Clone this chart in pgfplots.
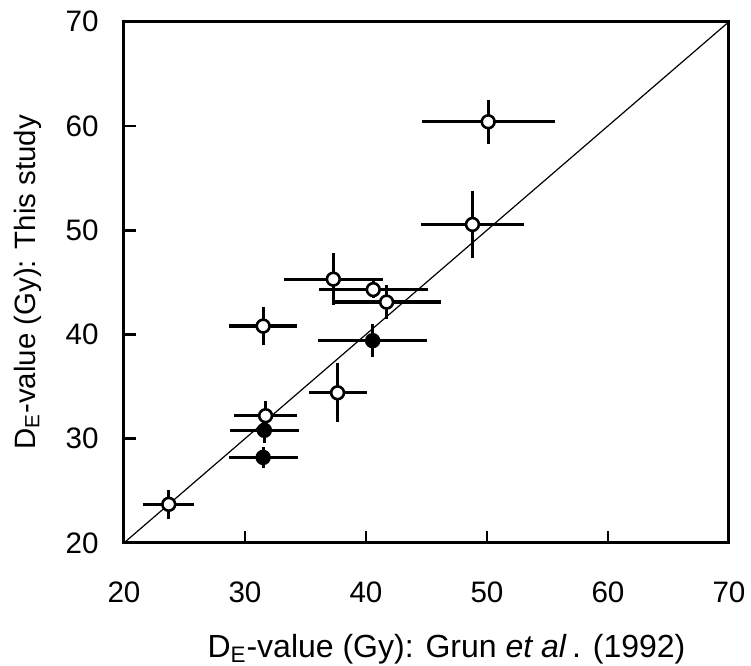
\documentclass[border=0pt]{standalone}
\usepackage{fontspec}
\setmainfont{Liberation Sans}
\usepackage{pgfplots}
\pgfplotsset{compat=1.18}
\begin{document}
\begin{tikzpicture}
\begin{axis}[
  scale only axis,
  width=302.5pt, height=260.6pt,
  xmin=20, xmax=70, ymin=20, ymax=70,
  xtick={20,30,...,70}, ytick={20,30,...,70},
  xtick pos=left, ytick pos=left,
  tick align=inside,
  major tick length=6pt,
  axis line style={line width=1.5pt},
  tick style={line width=1.4pt, black},
  /pgf/number format/assume math mode=true,
  tick label style={font=\fontsize{14.8}{17}\selectfont, inner sep=0pt},
  xticklabel style={anchor=north, yshift=-19.5pt},
  yticklabel style={anchor=east, xshift=-12.5pt},
  xlabel={D\textsubscript{E}-value (Gy): Grun \textit{et al}\,. (1992)},
  ylabel={D\textsubscript{E}-value (Gy): This study},
  xlabel style={font=\fontsize{16}{19}\selectfont, at={(axis description cs:0.533,-0.219)}, anchor=base},
  ylabel style={font=\fontsize{14.7}{17}\selectfont, at={(axis description cs:-0.147,0.5)}, anchor=base, rotate=0},
  clip=false,
]
\addplot[black, line width=0.6pt] coordinates {(20,20) (70,70)};
% error bars
\addplot[draw=none, mark=none,
  error bars/.cd, x dir=both, x explicit, y dir=both, y explicit,
  error mark=none, error bar style={line width=1.6pt, black}]
  coordinates {
  (23.7,23.7) +- (2.1,1.4)
  (31.5,28.2) +- (2.85,1.0)
  (31.6,30.8) +- (2.85,1.2)
  (31.7,32.2) +- (2.6,1.4)
  (31.5,40.8) +- (2.8,1.8)
  (37.65,34.4) +- (2.4,2.85)
  (40.55,39.4) +- (4.5,1.6)
  (37.3,45.3) +- (4.1,2.5)
  (40.6,44.3) +- (4.5,0.8)
  (41.7,43.1) +- (4.5,1.6)
  (50.1,60.4) +- (5.5,2.1)
  (48.8,50.55) +- (4.25,3.2)
  };
% open markers
\addplot[only marks, mark=*, mark size=3.2pt, mark options={fill=white, draw=black, line width=1.3pt}]
  coordinates {
  (23.7,23.7) (31.7,32.2) (31.5,40.8) (37.65,34.4) (37.3,45.3)
  (40.6,44.3) (41.7,43.1) (50.1,60.4) (48.8,50.55)
  };
% filled markers
\addplot[only marks, mark=*, mark size=3.2pt, mark options={fill=black, draw=black, line width=1.3pt}]
  coordinates {
  (31.5,28.2) (31.6,30.8) (40.55,39.4)
  };
\end{axis}
\pgfresetboundingbox
\path[use as bounding box] ([shift={(-62pt,-61.5pt)}]current axis.south west) rectangle ([shift={(11pt,10.85pt)}]current axis.north east);
\end{tikzpicture}
\end{document}
